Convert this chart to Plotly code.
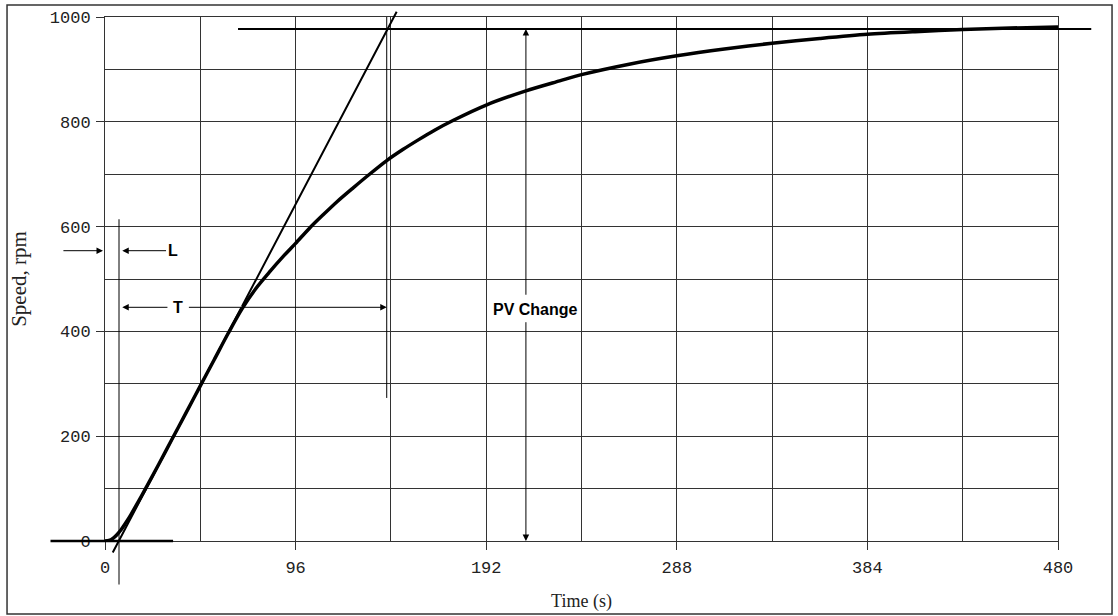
import plotly.graph_objects as go

# step response
time_s = [0, 2, 4, 6, 8, 10, 13, 16, 20, 27, 34, 41, 48, 55, 62, 69, 76, 83, 90, 96,
          103, 110, 117, 125, 132.6, 141.9, 150, 158, 166, 175.5, 192, 212, 229, 240,
          264, 288, 312, 336, 360, 384, 408, 432, 456, 480]
speed_rpm = [0, 1, 5, 12, 21, 32, 50, 70, 97, 146, 196, 246, 296, 346, 396, 443, 482,
             514, 544, 568, 597, 623, 648, 674, 698, 726, 747, 766, 784, 803, 832, 859,
             878, 890, 910, 926, 939, 950, 959, 967, 972, 976, 979, 981]

# construction lines
tangent_t = [3.9, 68.9, 146.9]
tangent_v = [-22, 447, 1010]
steady_t = [67, 497]
steady_v = 977
baseline_t = [-27.7, 34.3]
dead_t = 7.05
dead_v = [-84, 614]
tau_t = 141.9
tau_v = [273, 1000]
pv_t = 212

# arrows  (tail, head)
L_left = [-21.2, 0]
L_right = [31.0, 8.7]
L_v = 554
T_left = [31.7, 8.7]
T_right = [42.0, tau_t]
T_v = 446
pv_up = [469, 977]
pv_down = [418.5, 0]

x_ticks = [0, 96, 192, 288, 384, 480]
x_grid = [0, 48, 96, 144, 192, 240, 288, 336, 384, 432, 480]
y_ticks = [0, 200, 400, 600, 800, 1000]
y_grid = [0, 100, 200, 300, 400, 500, 600, 700, 800, 900, 1000]

GRID = '#333333'
INK = 'black'


def seg(x0, y0, x1, y1, width, head=0, standoff=0):
    # straight line drawn as an annotation arrow so it can run past the axes
    return dict(x=x1, y=y1, ax=x0, ay=y0, xref='x', yref='y', axref='x', ayref='y',
                text='', showarrow=True, arrowhead=head, arrowsize=1.3 / width if head else 1,
                arrowwidth=width, arrowcolor=INK, font=dict(size=1), borderpad=0,
                standoff=standoff)


fig = go.Figure()
fig.add_trace(go.Scatter(x=time_s, y=speed_rpm, mode='lines',
                         line=dict(color=INK, width=3.5, shape='spline', smoothing=0.8),
                         hoverinfo='skip'))
fig.add_trace(go.Scatter(x=[tau_t, tau_t], y=tau_v, mode='lines',
                         line=dict(color=INK, width=1), hoverinfo='skip'))

anns = [
    seg(tangent_t[1], tangent_v[1], tangent_t[2], tangent_v[2], 2),
    seg(tangent_t[1], tangent_v[1], tangent_t[0], tangent_v[0], 2),
    seg(steady_t[1], steady_v, steady_t[0], steady_v, 2),
    seg(baseline_t[0], 0, baseline_t[1], 0, 2.5),
    seg(dead_t, dead_v[0], dead_t, dead_v[1], 1),
    seg(L_left[0], L_v, L_left[1], L_v, 1, head=2, standoff=2),
    seg(L_right[0], L_v, L_right[1], L_v, 1, head=2),
    seg(T_left[0], T_v, T_left[1], T_v, 1, head=2),
    seg(T_right[0], T_v, T_right[1], T_v, 1, head=2),
    seg(pv_t, pv_up[0], pv_t, pv_up[1], 1, head=2),
    seg(pv_t, pv_down[0], pv_t, pv_down[1], 1, head=2),
]
lab_font = dict(family='Liberation Sans, Arial', size=16, color=INK, weight='bold')
for txt, tx, ty in [('L', 34.4, L_v), ('T', 36.8, T_v), ('PV Change', 216.6, 441)]:
    anns.append(dict(x=tx, y=ty, xref='x', yref='y', text=txt, showarrow=False,
                     font=lab_font, xanchor='center', yanchor='middle'))

tick_font = dict(family='Liberation Mono, Courier New, monospace', size=17, color='#222222')

fig.update_layout(
    width=1118, height=616,
    margin=dict(l=105, r=60, t=17, b=75),
    paper_bgcolor='white',
    plot_bgcolor='white',
    showlegend=False,
    annotations=anns,
    shapes=[dict(type='rect', xref='paper', yref='paper',
                 x0=-0.1028, x1=1.0567, y0=-0.1393, y1=1.0229,
                 line=dict(color='#333333', width=1.5), layer='below')],
    xaxis=dict(
        range=[0, 480], automargin=False,
        tickmode='array', tickvals=x_ticks,
        ticks='outside', ticklen=8, tickcolor=GRID, tickwidth=1,
        showgrid=True, gridcolor=GRID, gridwidth=1,
        minor=dict(tickmode='array', tickvals=x_grid, showgrid=True,
                   gridcolor=GRID, gridwidth=1, ticks=''),
        showline=True, linecolor=GRID, linewidth=1, mirror=True,
        zeroline=False, tickfont=tick_font, ticklabelstandoff=3,
        title=dict(text='Time (s)', standoff=16,
                   font=dict(family='Liberation Serif, Times New Roman, serif', size=18,
                             color='#222222')),
    ),
    yaxis=dict(
        range=[0, 1000], automargin=False,
        tickmode='array', tickvals=y_ticks,
        ticks='outside', ticklen=8, tickcolor=GRID, tickwidth=1,
        showgrid=True, gridcolor=GRID, gridwidth=1,
        minor=dict(tickmode='array', tickvals=y_grid, showgrid=True,
                   gridcolor=GRID, gridwidth=1, ticks=''),
        showline=True, linecolor=GRID, linewidth=1, mirror=True,
        zeroline=False, tickfont=tick_font, ticklabelstandoff=2,
        title=dict(text='Speed, rpm', standoff=17,
                   font=dict(family='Liberation Serif, Times New Roman, serif', size=21,
                             color='#222222')),
    ),
)

# drop the browser's default body margin so the figure sits at the page corner
fig.write_html("out.html", config={'displayModeBar': False},
               post_script="document.body.style.margin='0';")
